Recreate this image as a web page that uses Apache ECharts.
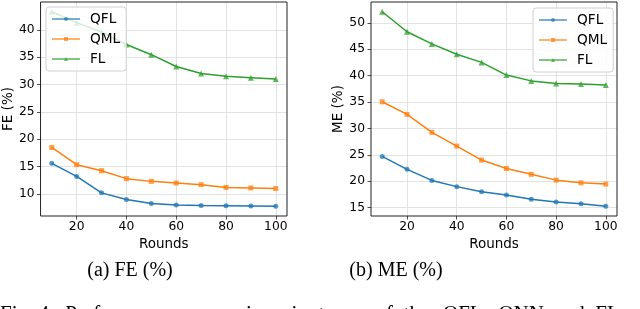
<!DOCTYPE html>
<html>
<head>
<meta charset="utf-8">
<script src="https://cdn.jsdelivr.net/npm/echarts@6/dist/echarts.min.js"></script>
<style>
html,body{margin:0;padding:0;background:#fff;}
#c{width:640px;height:309px;}
</style>
</head>
<body>
<div id="c"></div>
<script>
const rounds = [10, 20, 30, 40, 50, 60, 70, 80, 90, 100];
const xTicks = [20, 40, 60, 80, 100];
const feTicks = [10, 15, 20, 25, 30, 35, 40];
const meTicks = [15, 20, 25, 30, 35, 40, 45, 50];
const feQFL = [15.6, 13.2, 10.2, 9.0, 8.25, 8.0, 7.9, 7.85, 7.8, 7.75];
const feQML = [18.5, 15.35, 14.25, 12.8, 12.3, 12.0, 11.7, 11.2, 11.1, 11.0];
const feFL  = [43.3, 41.3, 39.6, 37.3, 35.45, 33.3, 32.0, 31.5, 31.25, 31.0];
const meQFL = [24.7, 22.25, 20.15, 18.97, 18.0, 17.4, 16.6, 16.05, 15.75, 15.25];
const meQML = [35.05, 32.65, 29.25, 26.65, 24.0, 22.4, 21.3, 20.2, 19.7, 19.45];
const meFL  = [52.1, 48.3, 46.0, 44.05, 42.5, 40.1, 39.0, 38.5, 38.4, 38.2];
const names = ['QFL', 'QML', 'FL'];
const colors = ['#1f77b4', '#ff7f0e', '#2ca02c'];
const symbols = ['circle', 'rect', 'triangle'];
const symSizes = [5, 5, 6];

function pad(arr) {
  const lo = Math.min(...arr), hi = Math.max(...arr), m = (hi - lo) * 0.05;
  return [lo - m, hi + m];
}
const feR = pad([].concat(feQFL, feQML, feFL));
const meR = pad([].concat(meQFL, meQML, meFL));
const xR = pad(rounds);

const tickFont = {fontFamily: 'DejaVu Sans', fontSize: 12.3, color: '#000'};

function xAxis(idx) {
  return {
    type: 'value', gridIndex: idx, min: xR[0], max: xR[1],
    name: 'Rounds', nameLocation: 'middle', nameGap: 15,
    nameTextStyle: {fontFamily: 'DejaVu Sans', fontSize: 13.5, color: '#000'},
    axisLine: {show: false},
    axisTick: {show: true, length: 3.5, lineStyle: {color: '#222', width: 0.8}, customValues: xTicks},
    axisLabel: Object.assign({margin: 5, customValues: xTicks}, tickFont),
    splitLine: {show: true, lineStyle: {color: '#dcdcdc', width: 0.8}, customValues: xTicks}
  };
}
function yAxis(idx, r, ticks, name, gap) {
  return {
    type: 'value', gridIndex: idx, min: r[0], max: r[1],
    name: name, nameLocation: 'middle', nameGap: gap, nameRotate: 90,
    nameTextStyle: {fontFamily: 'DejaVu Sans', fontSize: 13.5, color: '#000'},
    axisLine: {show: false},
    axisTick: {show: true, length: 3.5, lineStyle: {color: '#222', width: 0.8}, customValues: ticks},
    axisLabel: Object.assign({margin: 6, customValues: ticks}, tickFont),
    splitLine: {show: true, lineStyle: {color: '#dcdcdc', width: 0.8}, customValues: ticks}
  };
}
function mkSeries(data, i, g) {
  return {
    type: 'line', name: names[i], xAxisIndex: g, yAxisIndex: g,
    data: rounds.map((r, k) => [r, data[k]]),
    symbol: symbols[i], symbolSize: symSizes[i], showSymbol: true,
    lineStyle: {color: colors[i], width: 1.5},
    itemStyle: {color: colors[i], opacity: 0.75},
    emphasis: {disabled: true}, animation: false, z: 2
  };
}
function legend(left, top) {
  return {
    left: left, top: top, orient: 'vertical',
    data: names.map((n) => ({name: n, itemStyle: {opacity: 0.7}, lineStyle: {opacity: 0.6}})),
    itemWidth: 28, itemHeight: 5, itemGap: 6,
    padding: [5, 6, 5, 5],
    backgroundColor: 'rgba(255,255,255,0.8)', borderColor: '#d0d0d0', borderWidth: 1, borderRadius: 3,
    textStyle: {fontFamily: 'DejaVu Sans', fontSize: 13.7, color: '#000', padding: [0, 0, 0, 5], lineHeight: 14},
    selectedMode: false
  };
}

const chart = echarts.init(document.getElementById('c'), null, {renderer: 'canvas'});
chart.setOption({
  animation: false,
  backgroundColor: '#fff',
  grid: [
    {left: 40, top: 2, width: 247, height: 214, show: true, borderColor: '#222', borderWidth: 1, backgroundColor: 'transparent', z: 3},
    {left: 371, top: 2, width: 246, height: 214, show: true, borderColor: '#222', borderWidth: 1, backgroundColor: 'transparent', z: 3}
  ],
  xAxis: [xAxis(0), xAxis(1)],
  yAxis: [yAxis(0, feR, feTicks, 'FE (%)', 24), yAxis(1, meR, meTicks, 'ME (%)', 24)],
  legend: [legend(46, 7), legend(533, 8)],
  series: [
    mkSeries(feQFL, 0, 0), mkSeries(feQML, 1, 0), mkSeries(feFL, 2, 0),
    mkSeries(meQFL, 0, 1), mkSeries(meQML, 1, 1), mkSeries(meFL, 2, 1)
  ],
  graphic: [
    {type: 'text', style: {text: '(a) FE (%)', fontFamily: 'Liberation Serif', fontSize: 20, fill: '#000', align: 'center', verticalAlign: 'middle'}, x: 130, y: 271},
    {type: 'text', style: {text: '(b) ME (%)', fontFamily: 'Liberation Serif', fontSize: 20, fill: '#000', align: 'center', verticalAlign: 'middle'}, x: 396, y: 271},
    {type: 'text', style: {text: 'Fig. 4:  Performance  comparison  in  terms  of  the', fontFamily: 'Liberation Serif', fontSize: 21, fill: '#000', align: 'left', verticalAlign: 'top'}, x: 0, y: 304},
    {type: 'text', style: {text: 'QFL,  QNN  and  FL', fontFamily: 'Liberation Serif', fontSize: 21, fill: '#000', align: 'left', verticalAlign: 'top'}, x: 443, y: 304}
  ]
});
</script>
</body>
</html>
